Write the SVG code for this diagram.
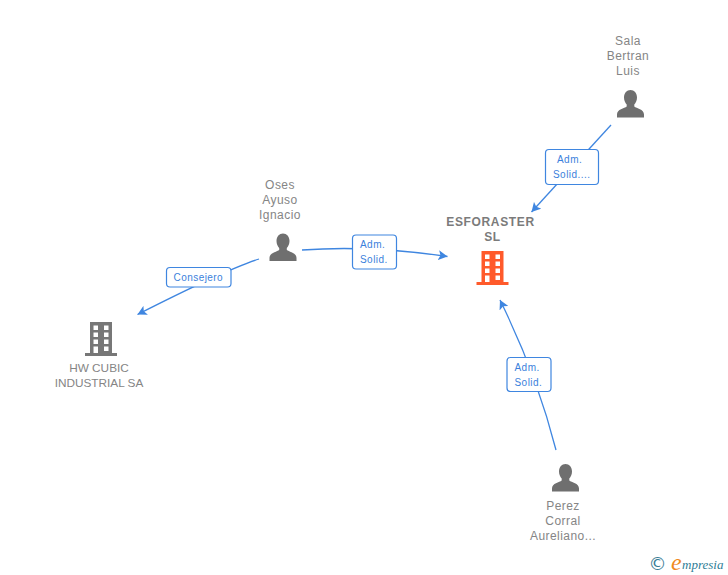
<svg xmlns="http://www.w3.org/2000/svg" width="728" height="575" viewBox="0 0 728 575">
<style>
text{font-family:"Liberation Sans",Arial,sans-serif}
.n{font-size:12px;fill:#858585;text-anchor:middle;letter-spacing:.45px}
.t{font-size:11.800px;fill:#858585;text-anchor:middle}
.b{font-size:12px;font-weight:bold;fill:#7b7b7b;text-anchor:middle;letter-spacing:.65px}
.l{font-size:10px;fill:#3b7fdc;letter-spacing:.45px}
.c{fill:none;stroke:#3f86e0;stroke-width:1.300}
.box{fill:#fff;stroke:#3f86e0;stroke-width:1.200}
.p{fill:#6f6f6f}
</style>
<defs>
<marker id="a" viewBox="0 0 12 12" refX="11" refY="6" markerWidth="10" markerHeight="10" markerUnits="userSpaceOnUse" orient="auto"><path d="M0 0L11 6L0 12L2.500 6Z" fill="#3f86e0"/></marker>
<path id="person" d="M0 0C3.700 0 6.500 3 6.500 7.500C6.500 10.600 5.200 13 3.800 14.600V16.500C6 18.400 13.500 19 13.500 24.500V27.500H-13.500V24.500C-13.500 19 -6 18.400 -3.800 16.500V14.600C-5.200 13 -6.500 10.600 -6.500 7.500C-6.500 3 -3.700 0 0 0Z"/>
<path id="bld" fill-rule="evenodd" d="M-11 0H11V31H16V34H-16V31H-11ZM-7.500 3.500V8H-3V3.500ZM3 3.500V8H7.500V3.500ZM-7.500 10.500V15H-3V10.500ZM3 10.500V15H7.500V10.500ZM-7.500 17.500V22H-3V17.500ZM3 17.500V22H7.500V17.500ZM-7.500 24.500V31H-3V24.500ZM3 24.500V29H7.500V24.500Z"/>
</defs>
<g id="connectors">
<path class="c" d="M611 125L531.500 212" marker-end="url(#a)"/>
<path class="c" d="M259 259Q225 270 137.500 314.500" marker-end="url(#a)"/>
<path class="c" d="M302 250Q370 245 447.500 256.500" marker-end="url(#a)"/>
<path class="c" d="M556 450Q537 375 500 300" marker-end="url(#a)"/>
</g>
<g id="label-sala"><rect class="box" x="545.500" y="149.500" width="53" height="35" rx="3.500"/><text class="l" x="557" y="163">Adm.</text><text class="l" x="553" y="178">Solid....</text></g>
<g id="label-consejero"><rect class="box" x="166.500" y="267.500" width="64.500" height="19.500" rx="3.500"/><text class="l" x="173.500" y="281">Consejero</text></g>
<g id="label-oses"><rect class="box" x="352.500" y="235" width="44" height="34" rx="3.500"/><text class="l" x="360" y="248">Adm.</text><text class="l" x="360" y="263">Solid.</text></g>
<g id="label-perez"><rect class="box" x="507" y="357.500" width="44" height="34" rx="3.500"/><text class="l" x="514.500" y="370.500">Adm.</text><text class="l" x="514.500" y="385.500">Solid.</text></g>
<g id="node-sala"><text class="n" x="628" y="45">Sala</text><text class="n" x="628" y="60">Bertran</text><text class="n" x="628" y="75">Luis</text><use href="#person" class="p" x="630.500" y="90"/></g>
<g id="node-oses"><text class="n" x="280" y="189">Oses</text><text class="n" x="280" y="204">Ayuso</text><text class="n" x="280" y="219">Ignacio</text><use href="#person" class="p" x="283" y="233.500"/></g>
<g id="node-perez"><use href="#person" class="p" x="565.500" y="464"/><text class="n" x="563" y="510">Perez</text><text class="n" x="563" y="525">Corral</text><text class="n" x="563" y="540">Aureliano...</text></g>
<g id="node-esforaster"><text class="b" x="490.500" y="226">ESFORASTER</text><text class="b" x="492.500" y="241">SL</text><use href="#bld" fill="#ff5a2b" x="492.500" y="251"/></g>
<g id="node-hw"><use href="#bld" fill="#777" x="101" y="322"/><text class="t" x="99" y="372">HW CUBIC</text><text class="t" x="99" y="387">INDUSTRIAL SA</text></g>
<g id="logo"><text x="657.500" y="570" font-size="18" fill="#3b7d96" text-anchor="middle" style="font-family:'DejaVu Sans',sans-serif">©</text><text x="671" y="570" font-size="24" fill="#f08a1d" font-style="italic" style="font-family:'Liberation Serif',serif">e</text><text x="682" y="569" font-size="13" fill="#2f7d96" font-style="italic" style="font-family:'Liberation Serif',serif">mpresia</text></g>
</svg>
